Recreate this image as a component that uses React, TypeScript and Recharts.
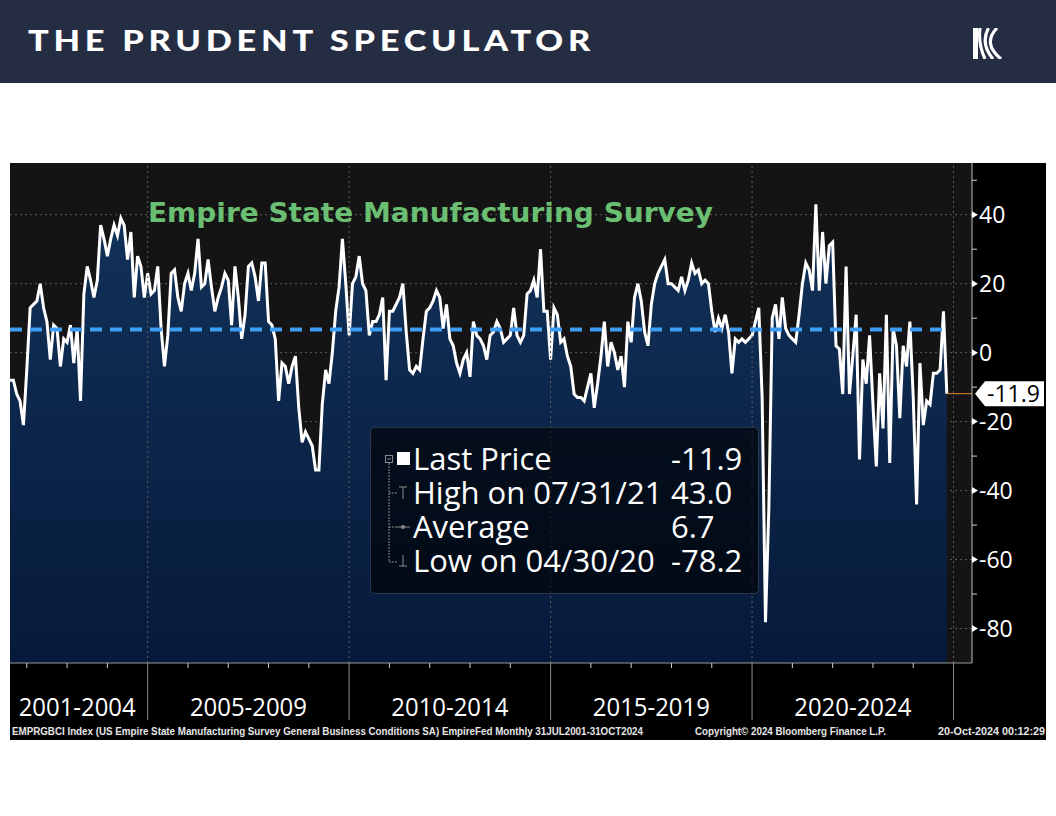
import React from 'react';
import { ComposedChart, Area, XAxis, YAxis, CartesianGrid, ReferenceLine } from 'recharts';

// monthly readings, Jul 2001 .. Oct 2024
const values2001to2004 = [
  -8, -8, -12, -14, -21, -5, 13, 14, 15, 20,
  13, 9, -2, 8, 7, -4, 4, 3, 8, -3,
  7, -14, 17, 25, 21, 16, 21, 37, 33, 28,
  33, 37, 34, 39, 37, 27, 35, 16, 28, 25,
  16, 23,
];
const values2005to2009 = [
  17, 18, 25, 7, -4, 5, 23, 24, 16, 12,
  20, 23, 18, 23, 33, 19, 20, 27, 19, 12,
  16, 19, 23, 21, 8, 25, 16, 4, 11, 25,
  26, 22, 15, 26, 26, 9, 8, 4, -14, -3,
  -4, -9, -4, -1, -16, -26, -23, -25, -27, -34,
  -34, -15, -5, -9, 0, 12, 19, 33, 20, 5,
];
const values2010to2014 = [
  20, 22, 28, 20, 18, 5, 9, 9, 11, 16,
  -8, 12, 12, 14, 16, 20, 6, -5, -6, -4,
  -5, 4, 12, 13, 15, 18, 16, 7, 14, 4,
  2, -3, -6, -2, 0, -7, 9, 5, 4, 2,
  -2, 5, 6, 9, 7, 3, 4, 5, 13, 5,
  3, 5, 17, 18, 21, 16, 30, 12, 12, -2,
];
const values2015to2019 = [
  13, 11, 3, 4, -1, -4, -12, -13, -13, -14,
  -10, -6, -16, -9, -1, 9, -4, 3, 0, -5,
  -1, -10, 9, 3, 16, 20, 15, 6, 2, 14,
  20, 23, 25, 27, 20, 20, 19, 18, 22, 18,
  21, 26, 23, 24, 20, 21, 20, 12, 6, 10,
  7, 11, 6, -6, 4, 3, 4, 3, 4, 5,
];
const values2020to2024 = [
  9, 13, -13, -78.2, -45, 10, 14, 4, 16, 7,
  5, 4, 3, 11, 20, 26, 24, 18, 43.0, 18,
  35, 20, 31, 32, 2, 1, -12, 25, -12, -1,
  11, -31, -2, -9, 5, -15, -33, -6, -22, 11,
  -32, 7, 2, -19, 2, -4, 9, -13, -44, -3,
  -21, -14, -15, -6, -6, -5, 12, -11.9,
];

const periodLabels = ['2001-2004', '2005-2009', '2010-2014', '2015-2019', '2020-2024'];
const periodEndYears = [2004, 2009, 2014, 2019, 2024];
const yTicksMajor = [40, 20, 0, -20, -40, -60, -80];
const yTicksMinor = [50, 30, 10, -10, -30, -50, -70];

const LAST_VALUE = -11.9;
const AVERAGE = 6.7;
const legendRows = [
  { label: 'Last Price', value: '-11.9' },
  { label: 'High on 07/31/21', value: '43.0' },
  { label: 'Average', value: '6.7' },
  { label: 'Low on 04/30/20', value: '-78.2' },
];

const START_YEAR = 2001;
const START_MONTH = 6; // July
const MONTHS = ['Jan', 'Feb', 'Mar', 'Apr', 'May', 'Jun', 'Jul', 'Aug', 'Sep', 'Oct', 'Nov', 'Dec'];

const allValues = [
  ...values2001to2004,
  ...values2005to2009,
  ...values2010to2014,
  ...values2015to2019,
  ...values2020to2024,
];

const data = allValues.map((value, i) => {
  const m = START_MONTH + i;
  return { idx: i, month: `${MONTHS[m % 12]} ${START_YEAR + Math.floor(m / 12)}`, value };
});

// index of December of a given year
const decIndex = (year: number) => (year - START_YEAR) * 12 + 11 - START_MONTH;
const yearTicks = Array.from({ length: 24 }, (_, k) => decIndex(START_YEAR + k));
const bounds = periodEndYears.map(decIndex);
const centers = bounds.map((b, i) => ((i === 0 ? -1 : bounds[i - 1]) + b) / 2);
const xTicks = [...yearTicks, ...centers].sort((a, b) => a - b);

const XTick = (props: any) => {
  const { x, y, payload } = props;
  const v = payload.value;
  const ci = centers.indexOf(v);
  if (ci >= 0) {
    return (
      <text x={x} y={y + 53} textAnchor="middle" fill="#ffffff" fontSize={25}
        fontFamily="'Open Sans', sans-serif" textLength={117} lengthAdjust="spacingAndGlyphs">
        {periodLabels[ci]}
      </text>
    );
  }
  if (bounds.includes(v)) {
    return <line x1={x} x2={x} y1={y} y2={y + 57} stroke="#8c8c8c" strokeWidth={1} />;
  }
  return <line x1={x} x2={x} y1={y} y2={y + 5} stroke="#d0d0d0" strokeWidth={1} />;
};

const YTick = (props: any) => {
  const { x, y, payload } = props;
  const v = payload.value;
  if (v === LAST_VALUE) {
    return (
      <g>
        <path d={`M${x + 3},${y} L${x + 13},${y - 12.5} L${x + 72},${y - 12.5} L${x + 72},${y + 12.5} L${x + 13},${y + 12.5} Z`} fill="#ffffff" />
        <text x={x + 15} y={y + 8} fill="#000000" fontSize={23} fontFamily="'Open Sans', sans-serif">
          {LAST_VALUE.toFixed(1)}
        </text>
      </g>
    );
  }
  if (yTicksMajor.includes(v)) {
    return (
      <g>
        <path d={`M${x},${y - 3.5} L${x + 6},${y} L${x},${y + 3.5} Z`} fill="#ffffff" />
        <text x={x + 7} y={y + 8} fill="#ffffff" fontSize={23} fontFamily="'Open Sans', sans-serif">
          {v}
        </text>
      </g>
    );
  }
  return <line x1={x} x2={x + 5} y1={y} y2={y} stroke="#d0d0d0" strokeWidth={1} />;
};

const legendFont = "'Open Sans', sans-serif";

// curved "<" stripes of the logo mark
const logoStripe = (i: number) =>
  `M${980 + 8.5 * i},28 Q${978 + 2 * i},43.5 ${985 + 8 * i},59`;

export default function App() {
  return (
    <div style={{ position: 'fixed', left: 0, top: 0, width: 1056, height: 816, background: '#ffffff', overflow: 'hidden' }}>
      <svg width={0} height={0} style={{ position: 'absolute' }}>
        <defs>
          <linearGradient id="navyFill" x1="0" y1="0" x2="0" y2="1">
            <stop offset="0%" stopColor="#12325a" />
            <stop offset="100%" stopColor="#06193a" />
          </linearGradient>
          <clipPath id="logoClip">
            <rect x={973} y={28} width={32} height={31} />
          </clipPath>
        </defs>
      </svg>

      {/* header band */}
      <svg width={1056} height={83} style={{ position: 'absolute', left: 0, top: 0 }}>
        <rect x={0} y={0} width={1056} height={83} fill="#252d42" />
        <text x={28} y={51} fill="#ffffff" fontSize={29} fontWeight={900} fontFamily="Lato, sans-serif"
          letterSpacing={4} textLength={567} lengthAdjust="spacingAndGlyphs">
          THE PRUDENT SPECULATOR
        </text>
        <g clipPath="url(#logoClip)">
          <rect x={973} y={28} width={5} height={31} fill="#ffffff" />
          <g stroke="#ffffff" strokeWidth={3.2} fill="none">
            <path d={logoStripe(0)} />
            <path d={logoStripe(1)} />
            <path d={logoStripe(2)} />
          </g>
        </g>
      </svg>

      <div style={{ position: 'absolute', left: 10, top: 163, width: 1036, height: 577, background: '#000000' }}>
        <ComposedChart width={1036} height={577} data={data} margin={{ top: 0, right: 0, left: 0, bottom: 0 }}>
          <CartesianGrid
            vertical={false}
            horizontalValues={yTicksMajor}
            stroke="#5e5e5e"
            strokeDasharray="2 3"
            fill="#141414"
            fillOpacity={1}
          />
          <XAxis
            dataKey="idx"
            type="number"
            domain={[0, 286.5]}
            allowDataOverflow
            ticks={xTicks}
            interval={0}
            tick={<XTick />}
            tickLine={false}
            tickSize={0}
            tickMargin={0}
            axisLine={{ stroke: '#9a9a9a' }}
            height={77}
          />
          <YAxis
            orientation="right"
            domain={[-90, 55]}
            allowDataOverflow
            ticks={[...yTicksMinor, ...yTicksMajor, LAST_VALUE].sort((a, b) => b - a)}
            interval={0}
            tick={<YTick />}
            tickLine={false}
            tickSize={0}
            tickMargin={0}
            axisLine={{ stroke: '#bdbdbd' }}
            width={74}
          />
          {bounds.map((b) => (
            <ReferenceLine key={b} x={b} stroke="#5e5e5e" strokeDasharray="2 3" />
          ))}
          <Area
            type="linear"
            dataKey="value"
            stroke="#ffffff"
            strokeWidth={3}
            fill="url(#navyFill)"
            fillOpacity={1}
            baseValue={-90}
            dot={false}
            activeDot={false}
            isAnimationActive={false}
          />
          <ReferenceLine
            segment={[{ x: 0, y: AVERAGE }, { x: allValues.length - 1, y: AVERAGE }]}
            stroke="#3d9df5"
            strokeWidth={4}
            strokeDasharray="12 8"
          />
          <ReferenceLine
            segment={[{ x: allValues.length - 1, y: LAST_VALUE }, { x: 286.5, y: LAST_VALUE }]}
            stroke="#e88a22"
            strokeWidth={1}
          />
        </ComposedChart>
      </div>

      {/* title, legend and source lines */}
      <svg width={1056} height={816} style={{ position: 'absolute', left: 0, top: 0, pointerEvents: 'none' }}>
        <text x={148} y={222} fill="#6abf72" fontSize={26} fontWeight={700} fontFamily="'DejaVu Sans', sans-serif"
          textLength={565} lengthAdjust="spacingAndGlyphs">
          Empire State Manufacturing Survey
        </text>

        <rect x={370.5} y={427.5} width={388} height={166} rx={4} fill="#000000" fillOpacity={0.62} stroke="#2b3647" />
        <g stroke="#8a8a8a" strokeWidth={1} fill="none">
          <rect x={385.5} y={455.5} width={7} height={7} />
          <line x1={387} x2={391} y1={459} y2={459} />
          <line x1={389} x2={389} y1={463} y2={562} strokeDasharray="2 1" />
          <line x1={389} x2={397} y1={493} y2={493} strokeDasharray="2 1" />
          <line x1={389} x2={397} y1={527} y2={527} strokeDasharray="2 1" />
          <line x1={389} x2={397} y1={562} y2={562} strokeDasharray="2 1" />
          <line x1={399} x2={407} y1={487} y2={487} />
          <line x1={403} x2={403} y1={487} y2={499} />
          <line x1={397} x2={410} y1={527} y2={527} />
          <line x1={403} x2={403} y1={555} y2={566} />
          <line x1={399} x2={407} y1={566} y2={566} />
        </g>
        <circle cx={403} cy={527} r={2} fill="#8a8a8a" />
        <rect x={397} y={452} width={13} height={13} fill="#ffffff" />
        {legendRows.map((r, i) => (
          <g key={r.label}>
            <text x={413} y={470 + i * 34} fill="#ffffff" fontSize={31} fontFamily={legendFont}>{r.label}</text>
            <text x={671} y={470 + i * 34} fill="#ffffff" fontSize={31} fontFamily={legendFont}>{r.value}</text>
          </g>
        ))}

        <g fill="#e6e6e6" fontSize={10} fontWeight={700} fontFamily="'Liberation Sans', sans-serif">
          <text x={12} y={735} textLength={631} lengthAdjust="spacingAndGlyphs">
            EMPRGBCI Index (US Empire State Manufacturing Survey General Business Conditions SA) EmpireFed  Monthly 31JUL2001-31OCT2024
          </text>
          <text x={695} y={735} textLength={191} lengthAdjust="spacingAndGlyphs">Copyright© 2024 Bloomberg Finance L.P.</text>
          <text x={938} y={735} textLength={107} lengthAdjust="spacingAndGlyphs">20-Oct-2024 00:12:29</text>
        </g>
      </svg>
    </div>
  );
}
